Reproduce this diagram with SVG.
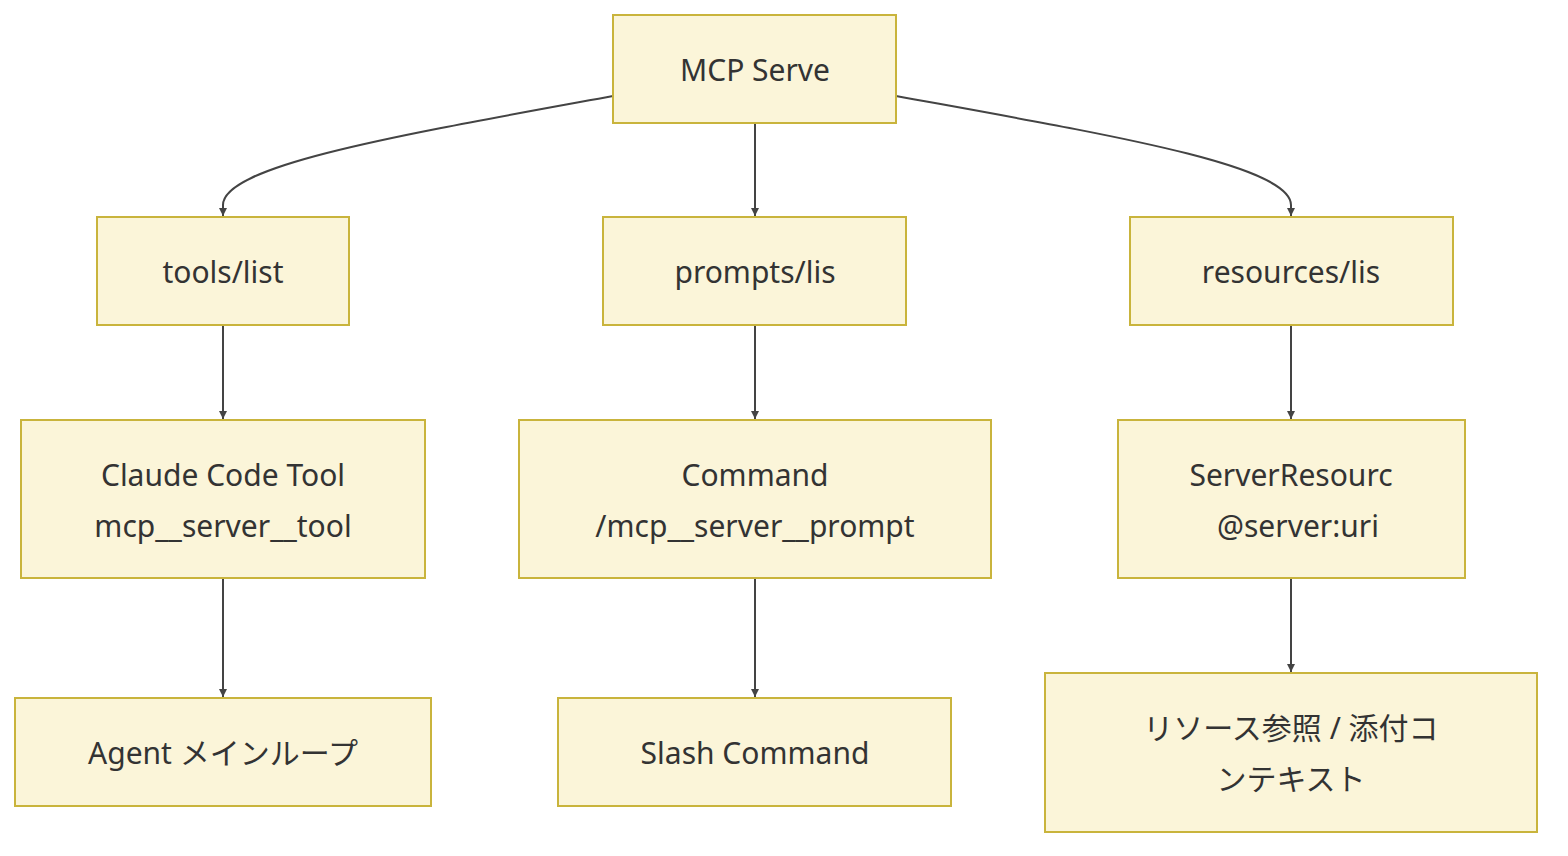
<svg xmlns="http://www.w3.org/2000/svg" width="1568" height="856" viewBox="0 0 1568 856">
<style>
.n rect{fill:#fbf5d9;stroke:#c9b43c;stroke-width:2}
.n text{font-family:"Noto Sans","Noto Sans CJK JP",sans-serif;font-size:30px;fill:#333;text-anchor:middle;dominant-baseline:central}
.e path{fill:none;stroke:#444;stroke-width:2;marker-end:url(#a)}
</style>
<defs><marker id="a" viewBox="0 0 10 10" refX="10" refY="5" markerWidth="8" markerHeight="8" orient="auto" markerUnits="userSpaceOnUse"><path d="M0,0L10,5L0,10z" fill="#444"/></marker></defs>
<rect width="1568" height="856" fill="#fff"/>
<g class="e">
<path d="M613,96 C400,135 223,165 223,205 L223,216"/>
<path d="M755,123 L755,216"/>
<path d="M896,96 C1110,135 1291,165 1291,205 L1291,216"/>
<path d="M223,325 L223,419"/>
<path d="M755,325 L755,419"/>
<path d="M1291,325 L1291,419"/>
<path d="M223,578 L223,697"/>
<path d="M755,578 L755,697"/>
<path d="M1291,578 L1291,672"/>
</g>
<g class="n" id="mcp"><rect x="613" y="15" width="283" height="108"/><text x="755" y="69">MCP Serve</text></g>
<g class="n" id="tools"><rect x="97" y="217" width="252" height="108"/><text x="223" y="271">tools/list</text></g>
<g class="n" id="prompts"><rect x="603" y="217" width="303" height="108"/><text x="755" y="271">prompts/lis</text></g>
<g class="n" id="resources"><rect x="1130" y="217" width="323" height="108"/><text x="1291" y="271">resources/lis</text></g>
<g class="n" id="tool"><rect x="21" y="420" width="404" height="158"/><text x="223" y="474">Claude Code Tool</text><text x="223" y="525">mcp__server__tool</text></g>
<g class="n" id="cmd"><rect x="519" y="420" width="472" height="158"/><text x="755" y="474">Command</text><text x="755" y="525">/mcp__server__prompt</text></g>
<g class="n" id="res"><rect x="1118" y="420" width="347" height="158"/><text x="1291" y="474">ServerResourc</text><text x="1298" y="525">@server:uri</text></g>
<g class="n" id="agent"><rect x="15" y="698" width="416" height="108"/><text x="223" y="752">Agent メインループ</text></g>
<g class="n" id="slash"><rect x="558" y="698" width="393" height="108"/><text x="755" y="752">Slash Command</text></g>
<g class="n" id="ref"><rect x="1045" y="673" width="492" height="159"/><text x="1291" y="727">リソース参照 / 添付コ</text><text x="1291" y="778">ンテキスト</text></g>
</svg>
